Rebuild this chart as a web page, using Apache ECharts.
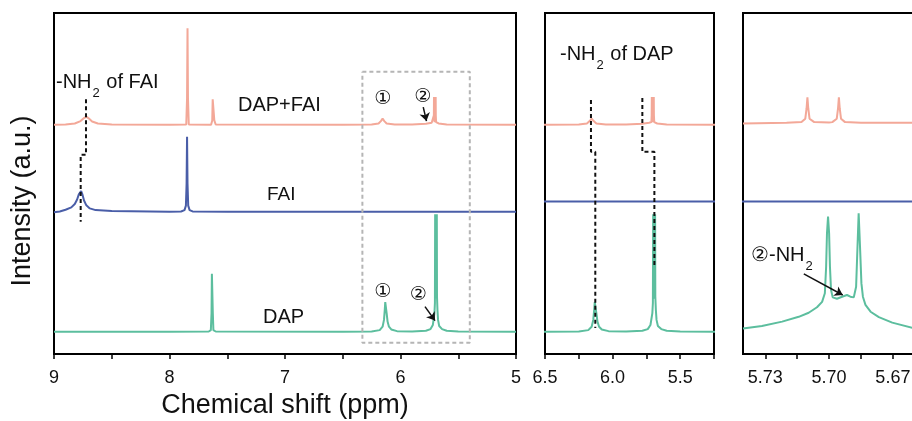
<!DOCTYPE html>
<html>
<head>
<meta charset="utf-8">
<script src="https://cdn.jsdelivr.net/npm/echarts@6/dist/echarts.min.js"></script>
<style>
  html, body { margin: 0; padding: 0; background: #fff; }
  #chart { width: 912px; height: 421px; }
</style>
</head>
<body>
<div id="chart"></div>
<script>
// spectra, [ppm, intensity] (intensity in arbitrary 0-100 units, stacked)
const dapFai = [
  [9.00, 67.2], [8.90, 67.3], [8.82, 67.6], [8.77, 68.3], [8.74, 69.2], [8.72, 69.6], [8.70, 69.1],
  [8.67, 68.2], [8.62, 67.6], [8.50, 67.3], [8.00, 67.2], [7.855, 67.3], [7.848, 75], [7.844, 95.5],
  [7.840, 75], [7.833, 67.3], [7.64, 67.2], [7.630, 68.5], [7.626, 74.7], [7.616, 74.7], [7.612, 68.5],
  [7.60, 67.3], [6.50, 67.2], [6.25, 67.3], [6.19, 67.6], [6.17, 68.3], [6.155, 69.0], [6.14, 68.3],
  [6.12, 67.6], [6.05, 67.3], [5.90, 67.3], [5.78, 67.5], [5.73, 67.8], [5.713, 68.0], [5.711, 70],
  [5.710, 75.4], [5.709, 70], [5.705, 68.0], [5.698, 68.0], [5.6965, 70], [5.6955, 75.4], [5.6945, 70],
  [5.692, 68.0], [5.67, 67.6], [5.60, 67.3], [5.00, 67.2]
];
const fai = [
  [9.00, 41.6], [8.95, 41.8], [8.90, 42.3], [8.85, 43.0], [8.82, 44.0], [8.80, 45.3], [8.785, 46.8],
  [8.765, 47.8], [8.755, 46.9], [8.74, 45.0], [8.72, 43.6], [8.69, 42.7], [8.64, 42.2], [8.50, 41.9],
  [8.00, 41.7], [7.90, 41.8], [7.87, 42.2], [7.858, 43.5], [7.852, 50], [7.848, 63.7], [7.844, 50],
  [7.838, 43.5], [7.826, 42.2], [7.80, 41.8], [7.50, 41.7], [5.00, 41.7]
];
const dap = [
  [9.00, 6.5], [8.00, 6.5], [7.66, 6.6], [7.642, 7.0], [7.636, 12], [7.633, 23.5], [7.628, 23.5],
  [7.625, 12], [7.62, 7.0], [7.60, 6.6], [6.50, 6.5], [6.25, 6.6], [6.18, 7.0], [6.155, 8.0],
  [6.143, 10], [6.136, 13], [6.132, 15.2], [6.126, 15.2], [6.12, 12], [6.112, 9.5], [6.10, 8.0],
  [6.08, 7.2], [6.03, 6.7], [5.90, 6.6], [5.78, 6.8], [5.74, 7.3], [5.72, 8.5], [5.706, 12],
  [5.702, 15], [5.700, 41], [5.698, 16.3], [5.692, 17.3], [5.6875, 16.3], [5.6856, 41], [5.684, 16.8],
  [5.68, 12.9], [5.675, 10], [5.665, 8.2], [5.64, 7.3], [5.60, 6.8], [5.50, 6.6], [5.00, 6.5]
];
// FAI trace as drawn in the two zoomed panels
const faiZoom = [[6.60, 44.7], [5.20, 44.7]];

// high-resolution region 5.74 - 5.66 ppm
const dapFaiHR = [
  [5.7405, 67.6], [5.720, 67.8], [5.713, 68.0], [5.7112, 69.0], [5.7106, 72], [5.7102, 75.3],
  [5.7098, 72], [5.7092, 69], [5.707, 68.0], [5.700, 67.9], [5.6985, 68.0], [5.6964, 69],
  [5.6958, 72], [5.6954, 75.3], [5.6950, 72], [5.6944, 69], [5.6925, 68.0], [5.685, 67.8], [5.660, 67.8]
];
const dapHR = [
  [5.7405, 7.5], [5.7316, 8.2], [5.7221, 9.5], [5.7143, 10.9], [5.7096, 12.1], [5.7057, 13.7],
  [5.7033, 15.3], [5.7020, 17.8], [5.7014, 25.6], [5.7010, 35.4], [5.7005, 40.3], [5.7000, 35.4],
  [5.6996, 25.6], [5.6991, 18.8], [5.6983, 16.6], [5.6963, 16.2], [5.6939, 16.8], [5.6916, 17.3],
  [5.6900, 16.8], [5.6884, 16.6], [5.6873, 19.7], [5.6867, 30.5], [5.6861, 41.3], [5.6854, 30.5],
  [5.6848, 20.7], [5.6841, 16.8], [5.6829, 14.4], [5.6805, 12.4], [5.6766, 10.8], [5.6703, 9.2],
  [5.6609, 7.7]
];

// guides
const guideFai = [[8.723, 74.7], [8.723, 58.4], [8.769, 58.4], [8.769, 38.8]];
const guideDap1 = [[6.160, 74.5], [6.160, 59.3], [6.128, 59.3], [6.128, 7.6]];
const guideDap2 = [[5.780, 75.1], [5.780, 59.3], [5.691, 59.3], [5.691, 25.6]];
const zoomBox = [[6.33, 82.8], [5.40, 82.8], [5.40, 3.3], [6.33, 3.3], [6.33, 82.8]];
const arrowPink = [[5.803, 72.4], [5.775, 68.3]];
const arrowGreen = [[5.788, 13.9], [5.701, 9.8]];
const arrowHR = [[5.7119, 23.5], [5.6936, 17.3]];

// ticks
const ticksMain = [5, 5.5, 6, 6.5, 7, 7.5, 8, 8.5, 9];
const labelsMain = [5, 6, 7, 8, 9];
const ticksMid = [5.25, 5.5, 5.75, 6.0, 6.25, 6.5];
const labelsMid = [5.5, 6.0, 6.5];
const ticksHR = [5.67, 5.685, 5.70, 5.715, 5.73];
const labelsHR = [5.67, 5.70, 5.73];

const PINK = '#F3A898', BLUE = '#4A5EA8', GREEN = '#5CBE9E';
const FONT = '"Liberation Sans", Arial, sans-serif';

const chart = echarts.init(document.getElementById('chart'));

function xAxis(idx, min, max, ticks, labels, digits) {
  return {
    type: 'value', gridIndex: idx, min: min, max: max, inverse: true,
    axisLine: { lineStyle: { color: '#000', width: 2 } },
    axisTick: { show: true, inside: false, length: 5, lineStyle: { color: '#000', width: 1.5 }, customValues: ticks },
    axisLabel: {
      customValues: labels, margin: 15, color: '#111', fontSize: 18, fontFamily: FONT,
      formatter: v => v.toFixed(digits)
    },
    splitLine: { show: false }
  };
}
function yAxis(idx) {
  return {
    type: 'value', gridIndex: idx, min: 0, max: 100,
    axisLine: { show: true, lineStyle: { color: '#000', width: 2 } },
    axisTick: { show: false }, axisLabel: { show: false }, splitLine: { show: false }
  };
}
function trace(idx, data, color) {
  return {
    type: 'line', xAxisIndex: idx, yAxisIndex: idx, data: data, showSymbol: false, symbol: 'none',
    lineStyle: { color: color, width: 2 }, silent: true, animation: false, z: 2
  };
}
function guide(idx, data, color) {
  return {
    type: 'line', xAxisIndex: idx, yAxisIndex: idx, data: data, showSymbol: false, symbol: 'none',
    lineStyle: { color: color, width: 2, type: [4, 3] }, silent: true, animation: false, z: 3
  };
}
function arrows(list) {
  return {
    silent: true, symbol: ['none', 'arrow'], symbolSize: 8, animation: false,
    lineStyle: { color: '#111', width: 1.5, type: 'solid' }, label: { show: false },
    data: list.map(a => [{ coord: a[0] }, { coord: a[1] }])
  };
}

const xLeft = xAxis(0, 5, 9, ticksMain, labelsMain, 0);
xLeft.name = 'Chemical shift (ppm)';
xLeft.nameLocation = 'middle';
xLeft.nameGap = 38;
xLeft.nameTextStyle = { fontSize: 27, color: '#111', fontFamily: FONT };

const boxSeries = guide(0, zoomBox, '#B5B5B5');
boxSeries.markLine = arrows([arrowPink, arrowGreen]);
const hrGreen = trace(2, dapHR, GREEN);
hrGreen.markLine = arrows([arrowHR]);

const sub = { fontSize: 13, fontFamily: FONT, verticalAlign: 'bottom', padding: [22, 1, 0, 1], fill: '#111' };
function txt(x, y, text, size, extra) {
  return {
    type: 'text', x: x, y: y, silent: true, z: 10,
    style: Object.assign({ text: text, fill: '#111', font: size + 'px ' + FONT, textVerticalAlign: 'top', verticalAlign: 'top' }, extra || {})
  };
}
const circ = '19px "DejaVu Sans", "Noto Sans CJK SC", sans-serif';
function num(x, y, t) {
  return {
    type: 'text', x: x, y: y, silent: true, z: 10,
    style: { text: t, fill: '#111', font: circ, align: 'center', verticalAlign: 'middle', textAlign: 'center', textVerticalAlign: 'middle' }
  };
}
const gridBase = { top: 13, height: 341, show: true, borderColor: '#000', borderWidth: 2, outerBoundsMode: 'none', containLabel: false };

chart.setOption({
  animation: false,
  backgroundColor: '#fff',
  grid: [
    Object.assign({ left: 54, width: 462 }, gridBase),
    Object.assign({ left: 545, width: 169 }, gridBase),
    Object.assign({ left: 743, width: 172 }, gridBase)
  ],
  xAxis: [xLeft, xAxis(1, 5.25, 6.5, ticksMid, labelsMid, 1), xAxis(2, 5.6596, 5.7405, ticksHR, labelsHR, 2)],
  yAxis: [yAxis(0), yAxis(1), yAxis(2)],
  series: [
    boxSeries,
    trace(0, dapFai, PINK), trace(0, fai, BLUE), trace(0, dap, GREEN),
    guide(0, guideFai, '#111'),
    trace(1, dapFai, PINK), trace(1, faiZoom, BLUE), trace(1, dap, GREEN),
    guide(1, guideDap1, '#111'), guide(1, guideDap2, '#111'),
    trace(2, dapFaiHR, PINK), trace(2, faiZoom, BLUE), hrGreen
  ],
  graphic: [
    {
      type: 'text', x: 23, y: 201, rotation: Math.PI / 2, silent: true,
      style: { text: 'Intensity (a.u.)', fill: '#111', font: '27px ' + FONT, align: 'center', verticalAlign: 'middle', textAlign: 'center', textVerticalAlign: 'middle' }
    },
    txt(56, 65, '-NH{s|2} of FAI', 20, { rich: { s: sub } }),
    txt(560, 37, '-NH{s|2} of DAP', 20, { rich: { s: sub } }),
    txt(238, 95, 'DAP+FAI', 20),
    txt(267, 185, 'FAI', 19),
    txt(263, 307, 'DAP', 20),
    num(382.7, 99, '①'), num(422.7, 97, '②'),
    num(382.7, 291.7, '①'), num(418.3, 295, '②'),
    txt(751, 238, '②-NH{s|2}', 20, { rich: { s: sub } })
  ]
});
</script>
</body>
</html>
